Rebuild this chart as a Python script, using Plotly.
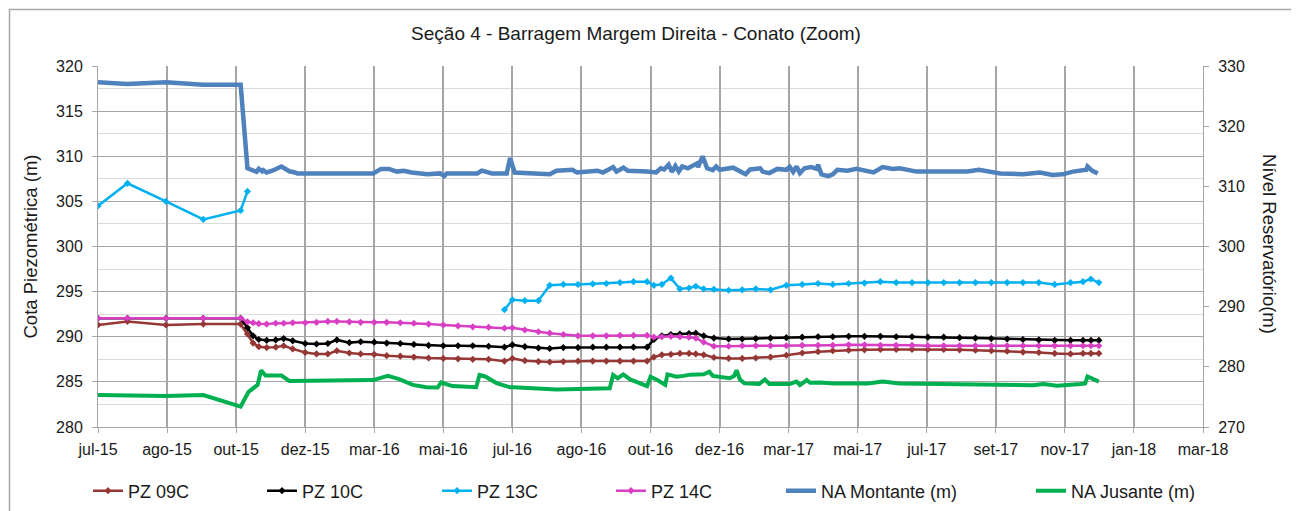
import plotly.graph_objects as go

# x axis: Excel-style date axis, major unit 61 days
tick_dates = ["2015-07-01", "2015-08-31", "2015-10-31", "2015-12-31", "2016-03-01", "2016-05-01",
              "2016-07-01", "2016-08-31", "2016-10-31", "2016-12-31", "2017-03-02", "2017-05-02",
              "2017-07-02", "2017-09-01", "2017-11-01", "2018-01-01", "2018-03-03"]
tick_labels = ["jul-15", "ago-15", "out-15", "dez-15", "mar-16", "mai-16", "jul-16", "ago-16",
               "out-16", "dez-16", "mar-17", "mai-17", "jul-17", "set-17", "nov-17", "jan-18", "mar-18"]

# piezometer reading dates (shared by the PZ series)
pz_dates = ["2015-07-01", "2015-07-27", "2015-08-30", "2015-10-02", "2015-11-04",
            "2015-11-10", "2015-11-15", "2015-11-20", "2015-11-27", "2015-12-05", "2015-12-12", "2015-12-20", "2015-12-31",
            "2016-01-10", "2016-01-20", "2016-01-28", "2016-02-08", "2016-02-18", "2016-03-01", "2016-03-12", "2016-03-24",
            "2016-04-05", "2016-04-18", "2016-05-01", "2016-05-14", "2016-05-27", "2016-06-10", "2016-06-24", "2016-07-01",
            "2016-07-12", "2016-07-24", "2016-08-03", "2016-08-15", "2016-08-28", "2016-09-10", "2016-09-22", "2016-10-04",
            "2016-10-16", "2016-10-28", "2016-11-03", "2016-11-10", "2016-11-18", "2016-11-26", "2016-12-04", "2016-12-10",
            "2016-12-17", "2016-12-26", "2017-01-08", "2017-01-20", "2017-02-01", "2017-02-14", "2017-02-28", "2017-03-14",
            "2017-03-28", "2017-04-10", "2017-04-24", "2017-05-08", "2017-05-22", "2017-06-05", "2017-06-19", "2017-07-03",
            "2017-07-17", "2017-07-31", "2017-08-14", "2017-08-28", "2017-09-11", "2017-09-25", "2017-10-09", "2017-10-23",
            "2017-11-06", "2017-11-17", "2017-11-24", "2017-12-01"]

pz09c = [291.3, 291.7, 291.3, 291.4, 291.4,
         290.3, 289.3, 288.9, 288.8, 288.85, 289.0, 288.65, 288.25,
         288.1, 288.1, 288.45, 288.2, 288.1, 288.05, 287.9, 287.85,
         287.75, 287.65, 287.6, 287.55, 287.5, 287.5, 287.3, 287.6,
         287.35, 287.25, 287.2, 287.25, 287.3, 287.3, 287.3, 287.3,
         287.3, 287.3, 287.75, 288.0, 288.05, 288.15, 288.15, 288.1,
         288.0, 287.7, 287.6, 287.6, 287.65, 287.75, 287.95, 288.2,
         288.35, 288.45, 288.5, 288.55, 288.6, 288.6, 288.6, 288.6,
         288.6, 288.55, 288.5, 288.45, 288.4, 288.3, 288.25, 288.15,
         288.1, 288.15, 288.15, 288.15]

pz10c = [292.05, 292.05, 292.05, 292.05, 292.05,
         291.0, 290.1, 289.7, 289.6, 289.65, 289.8, 289.55, 289.25,
         289.2, 289.25, 289.65, 289.35, 289.45, 289.4, 289.3, 289.25,
         289.15, 289.05, 289.0, 289.0, 289.0, 288.95, 288.85, 289.1,
         288.9, 288.75, 288.7, 288.8, 288.8, 288.85, 288.85, 288.85,
         288.85, 288.85, 289.7, 290.1, 290.25, 290.3, 290.35, 290.4,
         290.1, 289.85, 289.75, 289.75, 289.8, 289.85, 289.9, 289.95,
         290.0, 290.0, 290.05, 290.05, 290.05, 290.0, 290.0, 289.95,
         289.95, 289.9, 289.85, 289.8, 289.75, 289.7, 289.65, 289.6,
         289.6, 289.6, 289.6, 289.6]

pz13c = [304.5, 307.0, 305.0, 303.0, 304.0,
         306.1, None, None, None, None, None, None, None,
         None, None, None, None, None, None, None, None,
         None, None, None, None, None, None, 293.0, 294.1,
         294.0, 294.0, 295.7, 295.8, 295.8, 295.85, 295.9, 296.0,
         296.1, 296.1, 295.7, 295.8, 296.5, 295.3, 295.4, 295.6,
         295.3, 295.25, 295.15, 295.2, 295.3, 295.2, 295.7, 295.8,
         295.9, 295.8, 295.9, 295.95, 296.1, 296.0, 296.0, 296.0,
         296.0, 296.0, 296.0, 296.0, 296.0, 296.0, 296.0, 295.8,
         296.0, 296.1, 296.4, 296.0]

pz14c = [292.05, 292.05, 292.05, 292.05, 292.05,
         291.65, 291.55, 291.45, 291.4, 291.5, 291.5, 291.55, 291.55,
         291.6, 291.7, 291.7, 291.65, 291.6, 291.6, 291.6, 291.55,
         291.5, 291.4, 291.3, 291.2, 291.1, 291.05, 290.95, 291.0,
         290.75, 290.55, 290.4, 290.25, 290.1, 290.1, 290.1, 290.15,
         290.15, 290.15, 289.95, 290.0, 290.05, 290.0, 289.95, 289.85,
         289.4, 288.95, 288.95, 289.0, 289.0, 289.0, 289.0, 289.05,
         289.05, 289.05, 289.1, 289.1, 289.05, 289.05, 289.05, 289.0,
         289.0, 289.0, 289.0, 289.0, 289.0, 289.0, 289.0, 289.0,
         289.0, 289.0, 289.0, 289.0]

# reservoir levels (right axis)
montante_dates = ["2015-07-01", "2015-07-27", "2015-08-30", "2015-10-02", "2015-11-04", "2015-11-10",
                  "2015-11-18", "2015-11-20", "2015-11-23", "2015-11-24", "2015-11-27", "2015-12-02",
                  "2015-12-10", "2015-12-17", "2015-12-22", "2015-12-24", "2016-02-29", "2016-03-07",
                  "2016-03-14", "2016-03-21", "2016-03-27", "2016-04-03", "2016-04-17", "2016-04-28",
                  "2016-05-02", "2016-05-04", "2016-05-31", "2016-06-04", "2016-06-13", "2016-06-26",
                  "2016-06-29", "2016-07-03", "2016-08-03", "2016-08-09", "2016-08-23", "2016-08-27",
                  "2016-09-14", "2016-09-19", "2016-09-28", "2016-10-01", "2016-10-07", "2016-10-11",
                  "2016-10-28", "2016-11-05", "2016-11-09", "2016-11-12", "2016-11-16", "2016-11-19",
                  "2016-11-22", "2016-11-25", "2016-11-28", "2016-12-03", "2016-12-07", "2016-12-11",
                  "2016-12-12", "2016-12-16", "2016-12-20", "2016-12-25", "2016-12-28", "2016-12-31",
                  "2017-01-12", "2017-01-18", "2017-01-23", "2017-01-27", "2017-02-05", "2017-02-07",
                  "2017-02-13", "2017-02-20", "2017-02-28", "2017-03-03", "2017-03-06", "2017-03-09",
                  "2017-03-12", "2017-03-16", "2017-03-22", "2017-03-27", "2017-03-28", "2017-03-31",
                  "2017-04-06", "2017-04-10", "2017-04-14", "2017-04-23", "2017-05-01", "2017-05-16",
                  "2017-05-24", "2017-06-02", "2017-06-08", "2017-06-23", "2017-07-23", "2017-08-07",
                  "2017-08-17", "2017-09-05", "2017-09-25", "2017-10-10", "2017-10-21", "2017-10-30",
                  "2017-11-08", "2017-11-20", "2017-11-21", "2017-11-25", "2017-11-30"]
montante = [327.3, 327.0, 327.3, 326.9, 326.9, 313.0,
            312.4, 312.9, 312.5, 312.7, 312.3, 312.6,
            313.3, 312.5, 312.3, 312.15, 312.15, 312.9,
            312.9, 312.45, 312.6, 312.3, 312.0, 312.15,
            311.7, 312.15, 312.15, 312.6, 312.15, 312.15,
            314.7, 312.3, 312.0, 312.6, 312.75, 312.3,
            312.6, 312.3, 313.2, 312.45, 313.1, 312.6,
            312.45, 312.3, 313.0, 312.8, 313.6, 312.4,
            313.4, 312.45, 313.3, 313.0, 313.4, 313.8,
            313.2, 315.0, 313.0, 312.7, 313.3, 312.75,
            313.1, 312.4, 312.0, 312.8, 313.0, 312.45,
            312.2, 312.9, 312.75, 313.25, 312.4, 313.3,
            312.2, 313.0, 313.2, 312.9, 313.6, 312.0,
            311.7, 312.0, 312.75, 312.6, 312.9, 312.3,
            313.2, 312.9, 313.0, 312.45, 312.45, 312.45,
            312.75, 312.15, 312.0, 312.3, 311.9, 312.0,
            312.45, 312.75, 313.3, 312.6, 312.15]

jusante_dates = ["2015-07-01", "2015-08-30", "2015-10-02", "2015-11-04", "2015-11-11", "2015-11-19",
                 "2015-11-22", "2015-11-26", "2015-12-10", "2015-12-17", "2016-02-29", "2016-03-13",
                 "2016-03-23", "2016-04-04", "2016-04-16", "2016-04-26", "2016-04-29", "2016-05-09",
                 "2016-05-30", "2016-06-02", "2016-06-07", "2016-06-17", "2016-06-29", "2016-07-02",
                 "2016-08-09", "2016-09-17", "2016-09-25", "2016-09-28", "2016-10-02", "2016-10-07",
                 "2016-10-13", "2016-10-28", "2016-10-31", "2016-11-06", "2016-11-13", "2016-11-15",
                 "2016-11-23", "2016-11-29", "2016-12-05", "2016-12-17", "2016-12-22", "2016-12-25",
                 "2017-01-09", "2017-01-13", "2017-01-15", "2017-01-18", "2017-01-22", "2017-02-04",
                 "2017-02-09", "2017-02-13", "2017-03-03", "2017-03-09", "2017-03-12", "2017-03-18",
                 "2017-03-21", "2017-03-30", "2017-04-11", "2017-05-11", "2017-05-24", "2017-06-08",
                 "2017-07-23", "2017-09-05", "2017-10-04", "2017-10-13", "2017-10-25", "2017-11-15",
                 "2017-11-19", "2017-11-21", "2017-11-25", "2017-12-01"]
jusante = [275.3, 275.15, 275.3, 273.4, 275.85, 277.0,
           279.4, 278.55, 278.55, 277.65, 277.8, 278.5,
           277.95, 277.0, 276.6, 276.55, 277.4, 276.8,
           276.6, 278.65, 278.4, 277.3, 276.6, 276.6,
           276.25, 276.45, 276.45, 278.65, 278.1, 278.75,
           277.9, 276.8, 278.35, 277.8, 277.0, 278.75,
           278.35, 278.5, 278.7, 278.75, 279.2, 278.5,
           278.1, 278.5, 279.45, 277.9, 277.25, 277.15,
           277.9, 277.15, 277.15, 277.55, 276.95, 277.8,
           277.35, 277.4, 277.25, 277.25, 277.55, 277.25,
           277.15, 276.95, 276.95, 277.15, 276.85, 277.15,
           277.25, 278.4, 278.0, 277.55]

# the page body has an 8px margin, so the figure is 8px smaller than the window
OFF = 8
W, H = 1299 - OFF, 511 - OFF
FONT = "Liberation Sans, Arial, sans-serif"
GRID = "#A6A6A6"

fig = go.Figure()

pz_series = [("PZ 09C", pz09c, "#953735"), ("PZ 10C", pz10c, "#000000"),
             ("PZ 13C", pz13c, "#00B0F0"), ("PZ 14C", pz14c, "#D83FC4")]
legend_x = [88, 262, 437, 611, 781, 1031]

for i, (name, vals, color) in enumerate(pz_series):
    fig.add_trace(go.Scatter(x=pz_dates, y=vals, name=name, mode="lines+markers",
                             line=dict(color=color, width=2.5),
                             marker=dict(symbol="diamond", size=5.5, color=color),
                             legend="legend" if i == 0 else f"legend{i + 1}"))

fig.add_trace(go.Scatter(x=montante_dates, y=montante, name="NA Montante (m)", mode="lines",
                         line=dict(color="#4F81BD", width=4.5), yaxis="y2", legend="legend5"))
fig.add_trace(go.Scatter(x=jusante_dates, y=jusante, name="NA Jusante (m)", mode="lines",
                         line=dict(color="#00B050", width=4), yaxis="y2", legend="legend6"))

legends = {}
for i, lx in enumerate(legend_x):
    key = "legend" if i == 0 else f"legend{i + 1}"
    legends[key] = dict(xref="container", yref="container", x=(lx - OFF) / W, y=(511 - 491) / H,
                        xanchor="left", yanchor="middle", orientation="h",
                        bgcolor="rgba(0,0,0,0)", font=dict(size=18, color="#1a1a1a"))

axis_common = dict(showline=True, linecolor=GRID, linewidth=1, ticks="outside", ticklen=5,
                   tickcolor=GRID, tickfont=dict(size=16, color="#1a1a1a"), zeroline=False)

fig.update_layout(
    width=W, height=H, autosize=False,
    margin=dict(l=98 - OFF, r=96, t=66 - OFF, b=84),
    paper_bgcolor="white", plot_bgcolor="white",
    font=dict(family=FONT, color="#1a1a1a"),
    title=dict(text="Seção 4 - Barragem Margem Direita - Conato (Zoom)", x=(636 - OFF) / W, xanchor="center",
               y=1 - (33 - OFF) / H, yanchor="middle", font=dict(size=19)),
    xaxis=dict(type="date", range=[tick_dates[0], tick_dates[-1]], tickmode="array",
               tickvals=tick_dates, ticktext=tick_labels, showgrid=True, gridcolor=GRID,
               gridwidth=1.5, ticklabelstandoff=3, **axis_common),
    yaxis=dict(range=[280, 320], tick0=280, dtick=5, showgrid=True, gridcolor=GRID, gridwidth=1.2,
               minor=dict(dtick=2.5, showgrid=True, gridcolor="#DCDCDC", gridwidth=1.2),
               ticklabelstandoff=6, **axis_common),
    yaxis2=dict(range=[270, 330], tick0=270, dtick=10, overlaying="y", side="right",
                showgrid=False, ticklabelstandoff=6, **axis_common),
    showlegend=True,
    **legends,
    annotations=[
        dict(text="Cota Piezométrica (m)", textangle=-90, xref="paper", yref="paper",
             x=(30 - 98) / 1105, y=0.5, xanchor="center", yanchor="middle", showarrow=False,
             font=dict(size=18.5)),
        dict(text="Nível Reservatório(m)", textangle=90, xref="paper", yref="paper",
             x=(1269 - 98) / 1105, y=(427 - 244) / 361, xanchor="center", yanchor="middle",
             showarrow=False, font=dict(size=18.5)),
    ],
    # chart-area frame; its bottom edge sits below the visible page
    shapes=[dict(type="rect", xref="paper", yref="paper",
                 x0=(9.5 - 98) / 1105, x1=(1297 - 98) / 1105,
                 y0=(427 - 516) / 361, y1=(427 - 9.5) / 361,
                 line=dict(color="#A6A6A6", width=1.5), fillcolor="rgba(0,0,0,0)", layer="below")],
)

fig.write_html("out.html")
